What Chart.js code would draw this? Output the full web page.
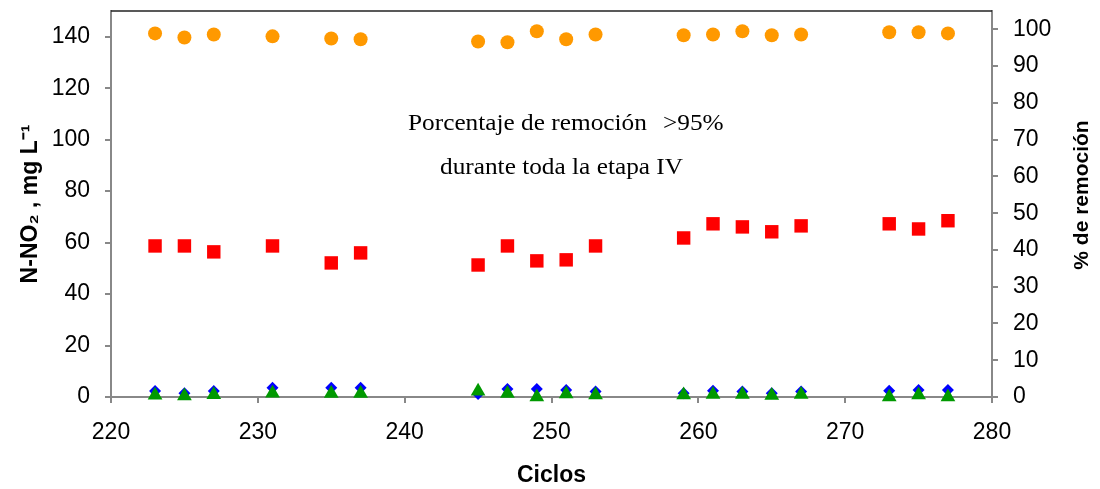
<!DOCTYPE html>
<html>
<head>
<meta charset="utf-8">
<script src="https://cdn.jsdelivr.net/npm/chart.js@4/dist/chart.umd.min.js"></script>
<style>
  html, body { margin: 0; padding: 0; background: #fff; }
  #wrap { width: 1100px; height: 489px; position: relative; }
</style>
</head>
<body>
<div id="wrap"><canvas id="grafico"></canvas></div>
<script>
// Datos
const ciclos = [223, 225, 227, 231, 235, 237, 245, 247, 249, 251, 253, 259, 261, 263, 265, 267, 273, 275, 277];
const entrada = [58.7, 58.7, 56.4, 58.7, 52.1, 56.0, 51.3, 58.7, 52.9, 53.3, 58.7, 61.8, 67.3, 66.1, 64.2, 66.5, 67.3, 65.3, 68.5];
const salidaDiamante = [2.3, 1.5, 2.3, 3.6, 3.6, 3.6, 1.2, 3.1, 3.1, 2.7, 2.1, 1.5, 2.4, 2.1, 1.5, 2.1, 2.4, 2.7, 2.7];
const salidaTriangulo = [0.7, 0.4, 0.9, 1.5, 1.4, 1.4, 2.2, 1.4, 0.0, 1.2, 0.8, 0.8, 1.0, 1.0, 0.6, 1.0, 0.0, 0.8, 0.0];
const remocion = [98.9, 97.8, 98.6, 98.1, 97.5, 97.3, 96.7, 96.5, 99.5, 97.3, 98.6, 98.4, 98.6, 99.5, 98.4, 98.6, 99.2, 99.2, 98.9];

const ticksX = [220, 230, 240, 250, 260, 270, 280];
const ticksIzq = [0, 20, 40, 60, 80, 100, 120, 140];
const ticksDer = [0, 10, 20, 30, 40, 50, 60, 70, 80, 90, 100];

const fuente = '"Liberation Sans", Arial, sans-serif';

function puntos(valores) {
    return ciclos.map((c, i) => ({ x: c, y: valores[i] }));
}

// Plugin: borde superior, título derecho y texto de anotación
const extras = {
    id: 'extras',
    afterDraw(chart) {
        const ctx = chart.ctx;
        const area = chart.chartArea;
        ctx.save();
        ctx.strokeStyle = '#222';
        ctx.lineWidth = 1.5;
        ctx.beginPath();
        ctx.moveTo(area.left, area.top);
        ctx.lineTo(area.right, area.top);
        ctx.stroke();

        // título del eje derecho, leído de abajo hacia arriba
        ctx.save();
        ctx.translate(1082, 195);
        ctx.rotate(-Math.PI / 2);
        ctx.font = 'bold 21px ' + fuente;
        ctx.fillStyle = '#000';
        ctx.textAlign = 'center';
        ctx.textBaseline = 'middle';
        ctx.fillText('% de remoción', 0, 0);
        ctx.restore();

        // anotación
        ctx.fillStyle = '#000';
        ctx.font = '23px "Liberation Serif", "Times New Roman", serif';
        ctx.textBaseline = 'alphabetic';
        ctx.textAlign = 'left';
        const texto = (t, x, y) => {
            ctx.save();
            ctx.translate(x, y);
            ctx.scale(1.1, 1);
            ctx.fillText(t, 0, 0);
            ctx.restore();
        };
        texto('Porcentaje de remoción', 408, 130);
        texto('>95%', 663, 130);
        texto('durante toda la etapa IV', 440, 174);
        ctx.restore();
    }
};

const ctx = document.getElementById('grafico').getContext('2d');
const grafico = new Chart(ctx, {
    type: 'scatter',
    data: {
        datasets: [{
            label: '% remoción',
            data: puntos(remocion),
            yAxisID: 'y2',
            pointStyle: 'circle',
            pointRadius: 7,
            backgroundColor: '#ff9900',
            borderColor: '#ff9900',
            borderWidth: 0
        }, {
            label: 'Salida 2',
            data: puntos(salidaTriangulo),
            yAxisID: 'y',
            clip: false,
            pointStyle: 'triangle',
            pointRadius: 8.5,
            backgroundColor: '#009900',
            borderColor: '#009900',
            borderWidth: 0
        }, {
            label: 'Salida 1',
            data: puntos(salidaDiamante),
            yAxisID: 'y',
            clip: false,
            pointStyle: 'rectRot',
            pointRadius: 6,
            backgroundColor: '#0000ff',
            borderColor: '#0000ff',
            borderWidth: 0
        }, {
            label: 'Entrada',
            data: puntos(entrada),
            yAxisID: 'y',
            pointStyle: 'rect',
            pointRadius: 9.5,
            backgroundColor: '#ff0000',
            borderColor: '#ff0000',
            borderWidth: 0
        }]
    },
    options: {
        responsive: true,
        maintainAspectRatio: false,
        animation: false,
        layout: { padding: { top: 11, left: 0, right: 0, bottom: 0 } },
        plugins: {
            legend: { display: false },
            tooltip: { enabled: false }
        },
        scales: {
            x: {
                type: 'linear',
                min: 220,
                max: 280,
                afterBuildTicks: scale => { scale.ticks = ticksX.map(v => ({ value: v })); },
                afterFit: scale => { scale.height = 92; scale.paddingLeft = 0; scale.paddingRight = 0; },
                border: { color: '#888', width: 2 },
                grid: { drawOnChartArea: false, color: '#888', tickLength: 6, lineWidth: 2 },
                ticks: {
                    color: '#000',
                    padding: 16,
                    font: { family: fuente, size: 23 }
                },
                title: {
                    display: true,
                    text: 'Ciclos',
                    color: '#000',
                    padding: { top: 0, bottom: 0 },
                    font: { family: fuente, size: 23, weight: 'bold' }
                }
            },
            y: {
                position: 'left',
                min: 0,
                max: 150,
                afterBuildTicks: scale => { scale.ticks = ticksIzq.map(v => ({ value: v })); },
                afterFit: scale => { scale.width = 111; scale.paddingTop = 0; scale.paddingBottom = 0; },
                border: { color: '#888', width: 2 },
                grid: { drawOnChartArea: false, color: '#888', tickLength: 6, lineWidth: 2 },
                ticks: {
                    color: '#000',
                    padding: 15,
                    font: { family: fuente, size: 23 }
                },
                title: {
                    display: true,
                    text: 'N-NO₂ , mg L⁻¹',
                    color: '#000',
                    padding: { top: 17, bottom: 0 },
                    font: { family: fuente, size: 23, weight: 'bold' }
                }
            },
            y2: {
                position: 'right',
                min: 0,
                max: 105,
                afterBuildTicks: scale => { scale.ticks = ticksDer.map(v => ({ value: v })); },
                afterFit: scale => { scale.width = 108; scale.paddingTop = 0; scale.paddingBottom = 0; },
                border: { color: '#888', width: 2 },
                grid: { drawOnChartArea: false, color: '#888', tickLength: 6, lineWidth: 2 },
                ticks: {
                    color: '#000',
                    padding: 15,
                    font: { family: fuente, size: 23 }
                },
                title: { display: false }
            }
        }
    },
    plugins: [extras]
});
</script>
</body>
</html>
